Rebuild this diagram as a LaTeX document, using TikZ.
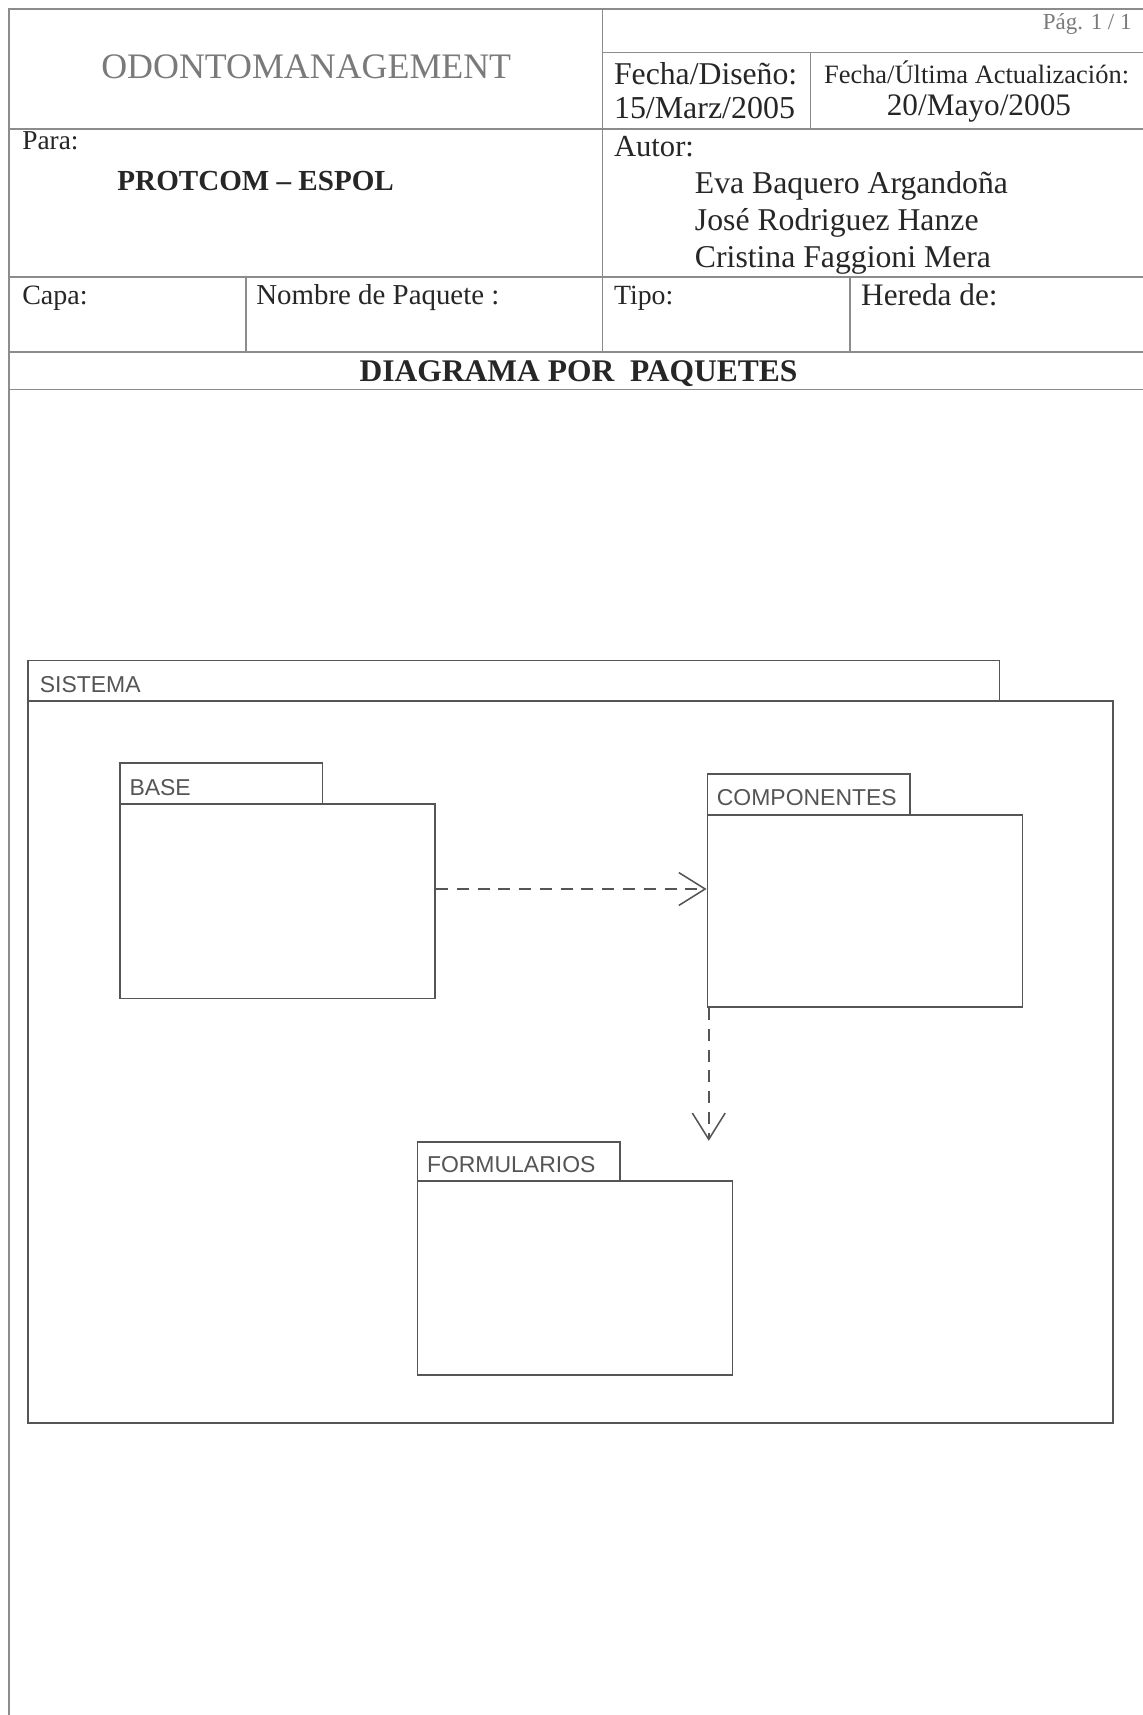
\documentclass[tikz,border=0pt]{standalone}
\usepackage{fontspec}
\setmainfont{Liberation Serif}
\newfontfamily\pkgfont{Liberation Sans}
\usetikzlibrary{arrows.meta,calc}
\definecolor{ruleclr}{HTML}{8C8C8C}
\definecolor{pkgclr}{HTML}{555555}
\definecolor{txtclr}{HTML}{262626}
\definecolor{titleclr}{HTML}{7A7A7A}
\tikzset{
  tbl/.style={draw=ruleclr, line width=0.75pt},
  txt/.style={anchor=base west, inner sep=0pt, text=txtclr},
  pkgbox/.style={draw=pkgclr, line width=0.8pt, fill=white, anchor=north west, inner sep=0pt},
  pkglabel/.style={anchor=base west, inner sep=0pt, text=pkgclr, font=\pkgfont\fontsize{10.5}{12}\selectfont},
  dep/.style={draw=pkgclr, line width=0.7pt, dash pattern=on 5.5pt off 4pt,
    -{Straight Barb[length=12pt,width=15pt,line width=0.7pt]}},
}
\begin{document}
\begin{tikzpicture}[x=0.5pt,y=-0.5pt]
\useasboundingbox (0,0) rectangle (1045,1568);
\fill[white] (0,0) rectangle (1045,1568);

% ---------- header table ----------
\draw[tbl] (8,1568) -- (8,8) -- (1045,8);
\draw[tbl] (551,48) -- (1045,48);
\draw[tbl] (8,118) -- (1045,118);
\draw[tbl] (8,253) -- (1045,253);
\draw[tbl] (8,322) -- (1045,322);
\draw[tbl] (8,356) -- (1045,356);
\draw[tbl] (551,8) -- (551,322);
\draw[tbl] (741,48) -- (741,118);
\draw[tbl] (225,253) -- (225,322);
\draw[tbl] (777,253) -- (777,322);

\node[anchor=base, inner sep=0pt, text=titleclr, font=\fontsize{16.4}{19}\selectfont] (title) at (280,72) {ODONTOMANAGEMENT};
\node[anchor=base east, inner sep=0pt, text=titleclr, font=\fontsize{10.5}{12}\selectfont] (pag) at (1035,27) {Pág. 1 / 1};
\node[txt, font=\fontsize{14.5}{17}\selectfont] (fdis) at (561,77) {Fecha/Diseño:};
\node[txt, font=\fontsize{14.6}{17}\selectfont] (fdisv) at (561,108) {15/Marz/2005};
\node[txt, font=\fontsize{12.1}{14}\selectfont] (fult) at (753,76) {Fecha/Última Actualización:};
\node[anchor=base, inner sep=0pt, text=txtclr, font=\fontsize{14.3}{17}\selectfont] (fultv) at (895,106) {20/Mayo/2005};

\node[txt, font=\fontsize{12.5}{15}\selectfont] (para) at (20,137) {Para:};
\node[txt, font=\bfseries\fontsize{13.3}{16}\selectfont] (paraval) at (107,174) {PROTCOM – ESPOL};
\node[txt, font=\fontsize{14}{17}\selectfont] (autor) at (561,143) {Autor:};
\node[txt, font=\fontsize{14.5}{17}\selectfont] (a1) at (635,177) {Eva Baquero Argandoña};
\node[txt, font=\fontsize{14.5}{17}\selectfont] (a2) at (635,211) {José Rodriguez Hanze};
\node[txt, font=\fontsize{14.5}{17}\selectfont] (a3) at (635,245) {Cristina Faggioni Mera};

\node[txt, font=\fontsize{12.8}{15}\selectfont] (capa) at (20,278) {Capa:};
\node[txt, font=\fontsize{13.2}{15}\selectfont] (nombre) at (234,278) {Nombre de Paquete :};
\node[txt, font=\fontsize{12.7}{15}\selectfont] (tipo) at (561,278) {Tipo:};
\node[txt, font=\fontsize{14.3}{17}\selectfont] (hereda) at (787,279) {Hereda de:};

\node[anchor=base, inner sep=0pt, text=txtclr, font=\bfseries\fontsize{14.4}{17}\selectfont] (diag) at (529,349) {DIAGRAMA POR\ \ PAQUETES};

% ---------- packages ----------
\node[pkgbox, minimum width=496pt, minimum height=330pt] (sis) at (25,640) {};
\node[pkgbox, minimum width=444pt, minimum height=18.5pt] (sisTab) at (25,603) {};
\node[pkglabel] (sisLbl) at (36,633) {SISTEMA};

\node[pkgbox, minimum width=144pt, minimum height=89pt] (base) at (109,734) {};
\node[pkgbox, minimum width=92.5pt, minimum height=18.5pt] (baseTab) at (109,697) {};
\node[pkglabel] (baseLbl) at (118,727) {BASE};

\node[pkgbox, minimum width=144pt, minimum height=88pt] (comp) at (646,744) {};
\node[pkgbox, minimum width=92.5pt, minimum height=18.5pt] (compTab) at (646,707) {};
\node[pkglabel] (compLbl) at (655,736) {COMPONENTES};

\node[pkgbox, minimum width=144pt, minimum height=88.5pt] (form) at (381,1079) {};
\node[pkgbox, minimum width=92.5pt, minimum height=18pt] (formTab) at (381,1043) {};
\node[pkglabel] (formLbl) at (390,1072) {FORMULARIOS};

% ---------- dependencies ----------
\draw[dep] ([yshift=5.5pt]base.east) -- ([yshift=5.5pt]base.east -| comp.west);
\coordinate (depEnd) at ([xshift=1pt]comp.south west |- formTab.north);
\draw[dep] ([xshift=1pt]comp.south west) -- (depEnd);
\end{tikzpicture}
\end{document}
